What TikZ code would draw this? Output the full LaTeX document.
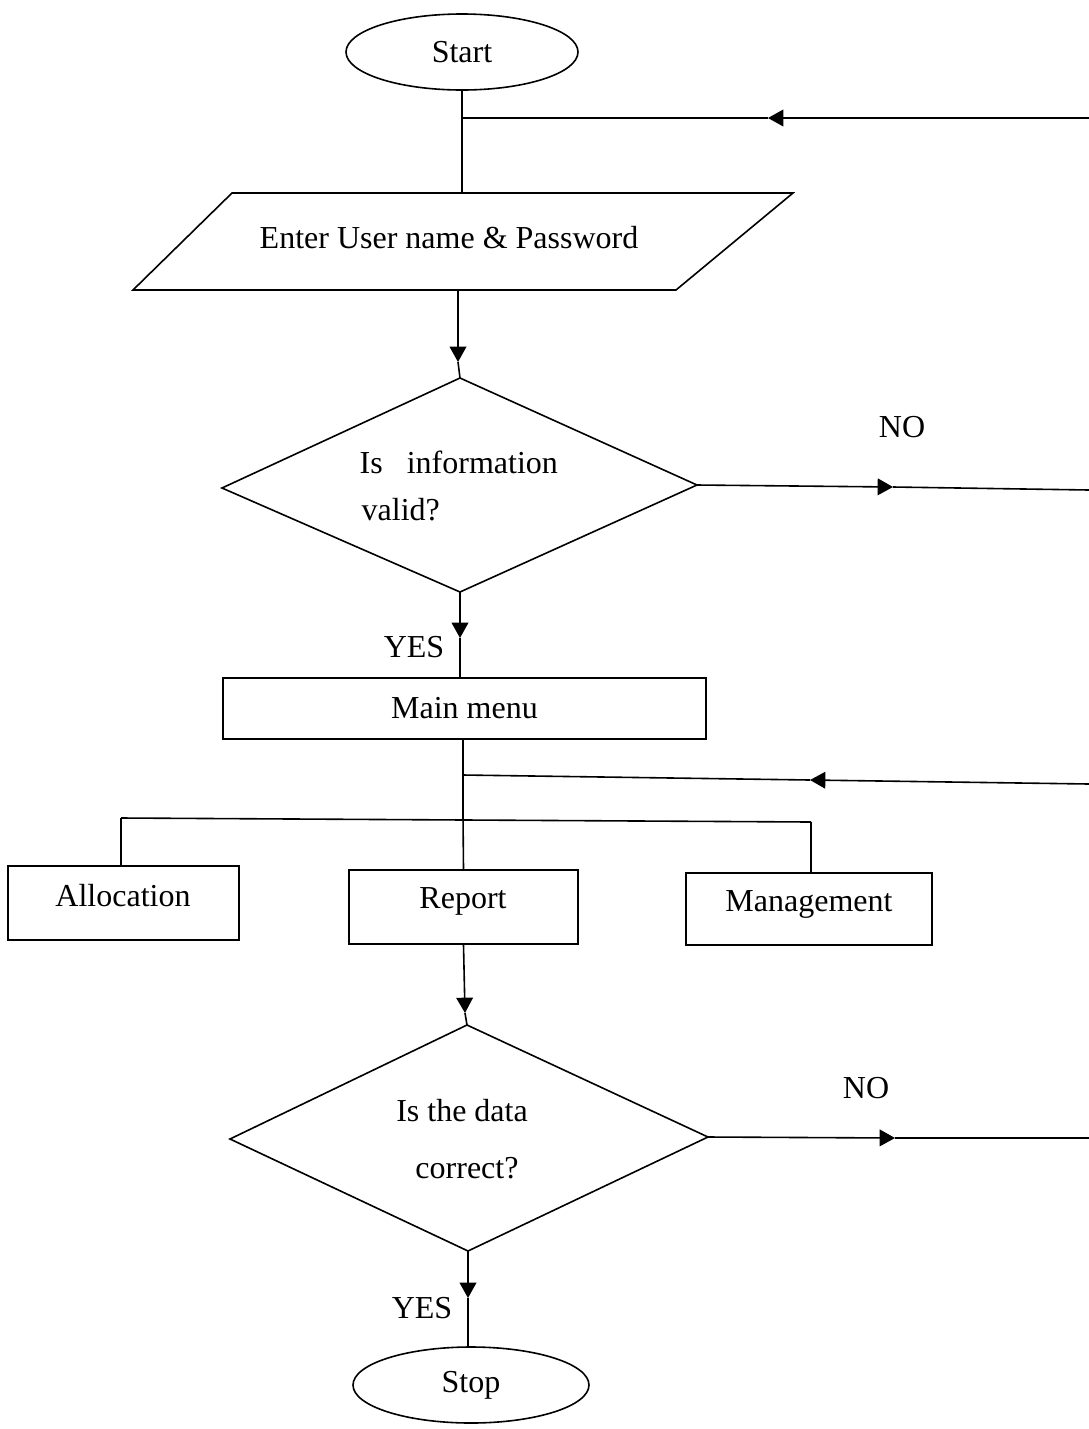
\documentclass[tikz,border=0pt]{standalone}
\usepackage{fontspec}
\setmainfont{Liberation Serif}
\usetikzlibrary{shapes.geometric,arrows.meta}
\begin{document}
\begin{tikzpicture}[x=0.75pt,y=-0.75pt,
  every node/.style={font=\fontsize{24}{28}\selectfont},
  ln/.style={line width=1.2pt},
  tip/.style={ln,-{Triangle[length=11.5pt,width=12.5pt]}},
  term/.style={ellipse,draw,ln,inner sep=0pt,minimum width=#1,minimum height=57pt},
  boxnode/.style={rectangle,draw,ln,inner sep=0pt}]
\useasboundingbox (0,0) rectangle (1089,1429);
% terminals
\node[term=174pt] (start) at (462,52) {Start};
\node[term=177pt] (stop) at (471,1385) {Stop};
% parallelogram
\draw[ln] (232,193) -- (793,193) -- (676,290) -- (133,290) -- cycle;
\node (enter) at (449,238) {Enter User name \& Password};
\coordinate (pgT) at (462,193);
\coordinate (pgB) at (458,290);
% diamond 1
\coordinate (d1T) at (460,378);
\coordinate (d1L) at (222,488);
\coordinate (d1R) at (697,485);
\coordinate (d1B) at (460,592);
\draw[ln] (d1T) -- (d1R) -- (d1B) -- (d1L) -- cycle;
\node[anchor=west] (q1a) at (355,462) {Is\ \ \ information};
\node[anchor=west] (q1b) at (357,510) {valid?};
% main menu
\node[boxnode,minimum width=362.25pt,minimum height=45.75pt] (menu) at (464.5,708.5) {Main menu};
% options
\node[boxnode,minimum width=173.25pt,minimum height=55.5pt] (alloc) at (123.5,903) {};
\node at (123,896) {Allocation};
\node[boxnode,minimum width=171.75pt,minimum height=55.5pt] (report) at (463.5,907) {};
\node at (463,901) {Report};
\node[boxnode,minimum width=184.5pt,minimum height=54pt] (mgmt) at (809,909) {};
\node at (809,904) {Management};
% diamond 2
\coordinate (d2T) at (467,1025);
\coordinate (d2L) at (230,1139);
\coordinate (d2R) at (708,1137);
\coordinate (d2B) at (468,1251);
\draw[ln] (d2T) -- (d2R) -- (d2B) -- (d2L) -- cycle;
\node (q2a) at (462,1111) {Is the data};
\node (q2b) at (467,1168) {correct?};
% labels
\node (no1) at (902,427) {NO};
\node (no2) at (866,1088) {NO};
\node (yes1) at (414,647) {YES};
\node (yes2) at (422,1308) {YES};
% connectors
\draw[ln] (start.south) -- (pgT);
\coordinate (fb1) at (1089,118);
\coordinate (fb1a) at (768,118);
\coordinate (fb1j) at (462,118);
\draw[tip] (fb1) -- (fb1a);
\draw[ln] (fb1a) -- (fb1j);
\coordinate (a1) at (458,362);
\draw[tip] (pgB) -- (a1);
\draw[ln] (a1) -- (d1T);
\coordinate (no1a) at (893,487);
\coordinate (no1e) at (1089,490);
\draw[tip] (d1R) -- (no1a);
\draw[ln] (no1a) -- (no1e);
\coordinate (a2) at (460,638);
\draw[tip] (d1B) -- (a2);
\draw[ln] (a2) -- (a2 |- menu.north);
\coordinate (mj) at (463,815);
\draw[ln] (463,739) -- (mj);
\coordinate (fb2) at (1089,784);
\coordinate (fb2a) at (810,780);
\coordinate (fb2j) at (463,775);
\draw[tip] (fb2) -- (fb2a);
\draw[ln] (fb2a) -- (fb2j);
\coordinate (bl) at (121,818);
\coordinate (br) at (811,822);
\draw[ln] (bl) -- (br);
\draw[ln] (bl) -- (121,866);
\draw[ln] (mj) -- (report.north);
\draw[ln] (br) -- (811,873);
\coordinate (a3) at (465,1013);
\draw[tip] (report.south) -- (a3);
\draw[ln] (a3) -- (d2T);
\coordinate (no2a) at (895,1138);
\coordinate (no2e) at (1089,1138);
\draw[tip] (d2R) -- (no2a);
\draw[ln] (no2a) -- (no2e);
\coordinate (a4) at (468,1298);
\draw[tip] (d2B) -- (a4);
\draw[ln] (a4) -- (a4 |- stop.north);
\end{tikzpicture}
\end{document}
